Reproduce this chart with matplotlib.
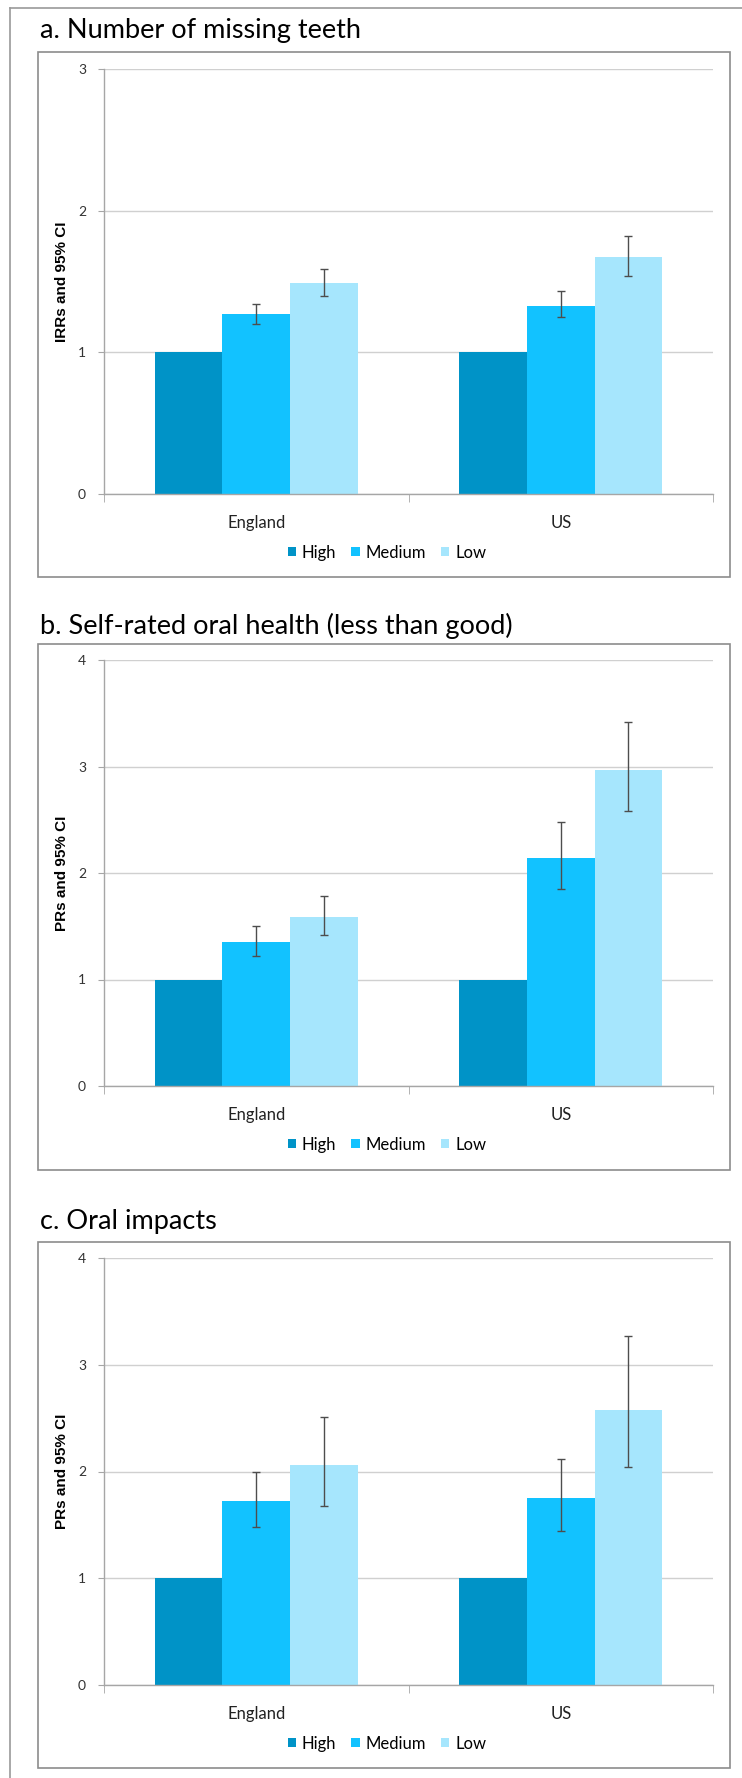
import matplotlib
matplotlib.use("Agg")
import matplotlib.pyplot as plt
from matplotlib.patches import Patch, Rectangle
from matplotlib.lines import Line2D
import numpy as np

plt.rcParams['font.family'] = ['Lato', 'DejaVu Sans']

# Categories and groups
countries = ['England', 'US']
groups = ['High', 'Medium', 'Low']
group_colors = ['#0093C7', '#12C2FF', '#A6E6FD']

# a. Number of missing teeth (IRRs)
a_high = [1.00, 1.00]
a_medium = [1.27, 1.33]
a_low = [1.49, 1.67]
a_medium_lo = [1.20, 1.25]
a_medium_hi = [1.34, 1.43]
a_low_lo = [1.40, 1.54]
a_low_hi = [1.59, 1.82]

# b. Self-rated oral health (PRs)
b_high = [1.00, 1.00]
b_medium = [1.35, 2.14]
b_low = [1.59, 2.97]
b_medium_lo = [1.22, 1.85]
b_medium_hi = [1.50, 2.48]
b_low_lo = [1.42, 2.58]
b_low_hi = [1.78, 3.42]

# c. Oral impacts (PRs)
c_high = [1.00, 1.00]
c_medium = [1.72, 1.75]
c_low = [2.06, 2.58]
c_medium_lo = [1.48, 1.44]
c_medium_hi = [2.00, 2.12]
c_low_lo = [1.68, 2.04]
c_low_hi = [2.51, 3.27]

W, H = 742, 1778


def fx(px):
    return px / W


def fy(py):
    return 1 - py / H


def draw_panel(fig, title, ylabel, ymax, vals, los, his, title_y, box, plot):
    # box / plot given as (left, top, right, bottom) in pixels
    l, t, r, b = box
    fig.patches.append(Rectangle((fx(l), fy(b)), fx(r - l), (b - t) / H,
                                 transform=fig.transFigure, fill=False,
                                 edgecolor='#8c8c8c', linewidth=1.2))
    fig.text(fx(40), fy(title_y), title, fontsize=19.5, va='baseline', ha='left',
             color='black')

    pl, pt, pr, pb = plot
    ax = fig.add_axes([fx(pl), fy(pb), fx(pr - pl), (pb - pt) / H])
    x = np.arange(len(countries))
    w = 1 / 4.5
    for i, (g, c) in enumerate(zip(groups, group_colors)):
        pos = x + (i - 1) * w
        ax.bar(pos, vals[i], width=w, color=c, zorder=2, label=g)
        if los[i] is not None:
            v = np.array(vals[i])
            yerr = [v - np.array(los[i]), np.array(his[i]) - v]
            ax.errorbar(pos, v, yerr=yerr, fmt='none', ecolor='#4d4d4d',
                        elinewidth=1, capsize=3, capthick=1, zorder=3)

    ax.set_xlim(-0.5, 1.5)
    ax.set_ylim(0, ymax)
    ax.set_yticks(range(ymax + 1))
    ax.yaxis.grid(True, color='#d0d0d0', linewidth=1)
    ax.set_axisbelow(True)
    for s in ('top', 'right'):
        ax.spines[s].set_visible(False)
    for s in ('left', 'bottom'):
        ax.spines[s].set_color('#a6a6a6')
        ax.spines[s].set_linewidth(1)
    ax.tick_params(axis='y', length=4, color='#a6a6a6', pad=9, labelsize=10,
                   labelcolor='#333333')
    ax.set_xticks(x)
    ax.set_xticklabels(countries)
    ax.tick_params(axis='x', which='major', length=0, pad=15, labelsize=12,
                   labelcolor='#222222')
    ax.set_xticks([-0.5, 0.5, 1.5], minor=True)
    ax.tick_params(axis='x', which='minor', length=6, color='#a6a6a6')

    fig.text(fx(62), fy((pt + pb) / 2), ylabel, rotation=90, ha='center',
             va='center', fontsize=11, fontweight='bold',
             family=['Liberation Sans', 'DejaVu Sans'])

    handles = [Patch(facecolor=c, edgecolor='none') for c in group_colors]
    leg_y = pb + 58.6
    ax.legend(handles, groups, loc='center', ncol=3, frameon=False,
              bbox_to_anchor=(fx(387), fy(leg_y)), bbox_transform=fig.transFigure,
              fontsize=12, handlelength=0.5, handleheight=0.5,
              handletextpad=0.35, columnspacing=0.9, borderaxespad=0)
    return ax


def main():
    fig = plt.figure(figsize=(W / 100, H / 100), dpi=100)

    # outer frame (top and left edges)
    fig.add_artist(Line2D([fx(10), 1], [fy(8), fy(8)], transform=fig.transFigure,
                          color='#9a9a9a', linewidth=1.2))
    fig.add_artist(Line2D([fx(10), fx(10)], [fy(8), 0], transform=fig.transFigure,
                          color='#9a9a9a', linewidth=1.2))

    draw_panel(fig, 'a. Number of missing teeth', 'IRRs and 95% CI', 3,
               [a_high, a_medium, a_low], [None, a_medium_lo, a_low_lo],
               [None, a_medium_hi, a_low_hi], 38,
               (38, 52, 730, 577), (104, 69, 713, 494))
    draw_panel(fig, 'b. Self-rated oral health (less than good)', 'PRs and 95% CI', 4,
               [b_high, b_medium, b_low], [None, b_medium_lo, b_low_lo],
               [None, b_medium_hi, b_low_hi], 634,
               (38, 644, 730, 1170), (104, 660, 713, 1086))
    draw_panel(fig, 'c. Oral impacts', 'PRs and 95% CI', 4,
               [c_high, c_medium, c_low], [None, c_medium_lo, c_low_lo],
               [None, c_medium_hi, c_low_hi], 1229,
               (38, 1242, 730, 1768), (104, 1258, 713, 1685))

    fig.savefig('out.png', dpi=100)
    plt.close(fig)


if __name__ == '__main__':
    main()
